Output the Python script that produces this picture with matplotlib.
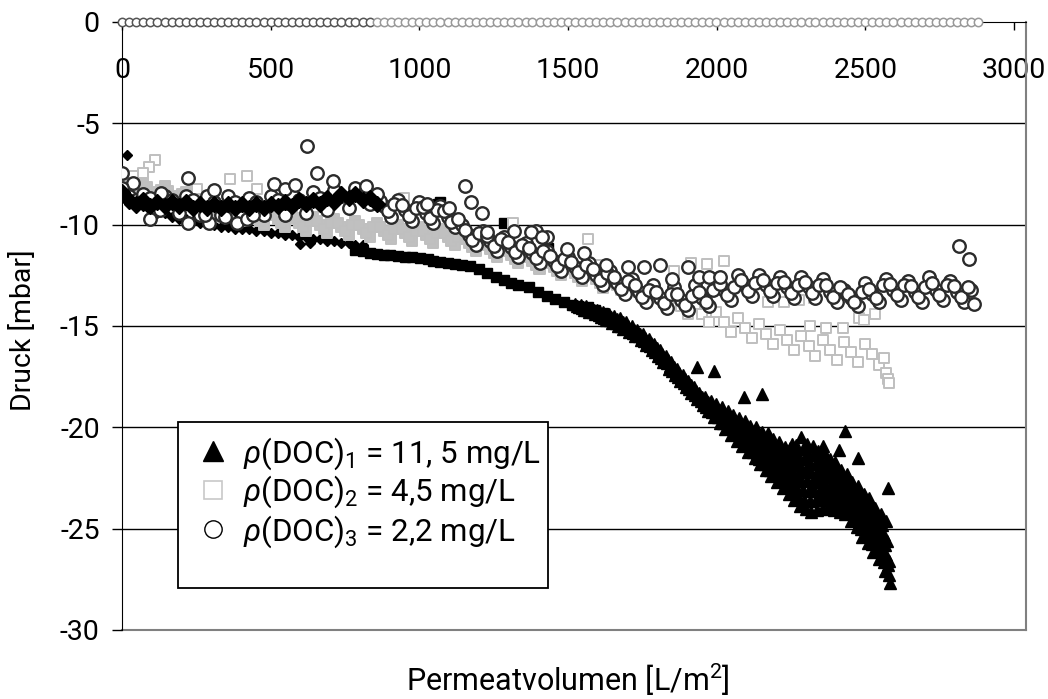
import matplotlib
matplotlib.use("Agg")
import matplotlib.pyplot as plt
from matplotlib.lines import Line2D
from matplotlib.patches import Rectangle
import numpy as np

plt.rcParams["font.family"] = ["Roboto", "DejaVu Sans"]
plt.rcParams["mathtext.fontset"] = "custom"
plt.rcParams["mathtext.rm"] = "Roboto"
plt.rcParams["mathtext.it"] = "Roboto:italic"
plt.rcParams["axes.unicode_minus"] = False

# --- data (Permeatvolumen in L/m2, Druck in mbar) ---
# rho(DOC)1 = 11,5 mg/L : three black runs (diamonds, squares, triangles)
dia_x = [0, 24, 48, 71, 95, 119, 143, 167, 190, 214, 238, 262, 286, 309, 333, 357, 381, 405,
         428, 452, 476, 500, 524, 547, 571, 595, 619, 643, 666, 690, 714, 738, 762, 785, 809,
         17, 600, 633]
dia_y = [-8.7, -9.0, -9.2, -9.1, -9.3, -9.4, -9.4, -9.6, -9.7, -9.7, -9.8, -9.9, -9.9, -10.0,
         -10.1, -10.1, -10.2, -10.2, -10.2, -10.3, -10.3, -10.4, -10.4, -10.5, -10.5, -10.6,
         -10.6, -10.7, -10.7, -10.8, -10.8, -10.9, -10.9, -11.0, -11.0,
         -6.55, -10.95, -10.9]

upper_x = [0, 24, 48, 71, 95, 119, 143, 167, 190, 214, 238, 262, 286, 309, 333, 357, 381, 405,
           428, 452, 476, 500, 524, 547, 571, 595, 619, 643, 666, 690, 714, 738, 762, 785, 809,
           833, 857]
upper_y = [-8.4, -8.8, -9.0, -8.8, -9.1, -8.9, -9.1, -8.9, -9.1, -8.9, -9.2, -9.0, -9.2, -9.0,
           -9.2, -9.0, -9.2, -9.0, -9.2, -9.0, -9.2, -9.0, -9.1, -8.9, -9.1, -8.8, -9.0, -8.8,
           -9.0, -8.7, -8.9, -8.5, -8.7, -8.5, -8.8, -8.7, -9.0]

bsq_x = [784, 809, 835, 857, 881, 902, 928, 952, 976, 1003, 1028, 1047, 1071, 1095, 1119, 1142,
         1171, 1200, 1228, 1257, 1285, 1309, 1330, 1367, 1399, 1428, 1457, 1485, 1514, 1532,
         1566, 1590, 1618, 1064, 1071, 1283, 1431, 1497, 1619]
bsq_y = [-11.25, -11.3, -11.4, -11.45, -11.5, -11.5, -11.55, -11.6, -11.6, -11.65, -11.7, -11.8,
         -11.85, -11.9, -11.95, -12.0, -12.05, -12.2, -12.4, -12.6, -12.75, -12.9, -13.0, -13.1,
         -13.3, -13.5, -13.65, -13.8, -13.95, -14.0, -14.05, -14.2, -14.35,
         -9.0, -8.9, -9.9, -11.15, -11.6, -12.4]

tri_x = [1523, 1531, 1538, 1546, 1553, 1561, 1569, 1576, 1584, 1591,
         1599, 1607, 1614, 1622, 1629, 1637, 1645, 1652, 1660, 1667,
         1676, 1684, 1691, 1699, 1706, 1714, 1722, 1729, 1737, 1744,
         1752, 1760, 1767, 1775, 1782, 1790, 1798, 1805, 1813, 1820,
         1828, 1836, 1843, 1851, 1858, 1866, 1874, 1881, 1889, 1896,
         1904, 1912, 1919, 1927, 1934, 1942, 1950, 1957, 1965, 1972,
         1980, 1988, 1995, 2003, 2010, 2018, 2026, 2033, 2041, 2048,
         2056, 2064, 2071, 2079, 2086,
         2094, 2099, 2104, 2108, 2113, 2118, 2123, 2127,
         2132, 2137, 2142, 2146, 2151, 2156, 2161, 2165,
         2171, 2176, 2181, 2185, 2190, 2195, 2200, 2204,
         2209, 2214, 2219, 2223, 2228, 2233, 2238, 2242,
         2247, 2252, 2257, 2261, 2266, 2271, 2276, 2280,
         2285, 2290, 2295, 2299, 2304, 2309, 2314, 2318,
         2323, 2328, 2333, 2337, 2342, 2347, 2352, 2356,
         2361, 2366, 2371, 2375, 2380, 2385, 2390, 2394,
         2399, 2404, 2409, 2413, 2418, 2423, 2428, 2432,
         2437, 2442, 2447, 2451, 2456, 2461, 2466, 2470,
         2475, 2480, 2485, 2489, 2494, 2499, 2504, 2508,
         2513, 2518, 2523, 2527, 2532, 2537, 2542, 2546,
         2551, 2556, 2561, 2565, 2570, 2575, 2580, 2582,
         1933, 1991, 2092, 2152, 2252, 2357, 2411, 2431, 2475, 2575]
tri_y = [-13.9, -14.0, -14.05, -14.1, -14.2, -14.0, -14.1, -14.2, -14.3, -14.4,
         -14.2, -14.3, -14.45, -14.6, -14.7, -14.4, -14.55, -14.7, -14.85, -15.0,
         -14.6, -14.8, -14.95, -15.1, -15.3, -15.0, -15.2, -15.35, -15.5, -15.7,
         -15.4, -15.6, -15.8, -16.0, -16.2, -15.9, -16.1, -16.35, -16.6, -16.8,
         -16.5, -16.7, -16.95, -17.2, -17.4, -17.1, -17.3, -17.55, -17.8, -18.0,
         -17.7, -17.9, -18.15, -18.4, -18.6, -18.3, -18.5, -18.75, -19.0, -19.2,
         -18.7, -19.0, -19.25, -19.5, -19.8, -19.0, -19.35, -19.7, -20.05, -20.4,
         -19.4, -19.8, -20.15, -20.5, -20.9,
         -19.7, -20.0, -20.2, -20.5, -20.7, -21.0, -21.2, -21.5,
         -20.0, -20.3, -20.6, -20.9, -21.2, -21.5, -21.8, -22.1,
         -20.3, -20.65, -21.0, -21.35, -21.65, -22.0, -22.35, -22.7,
         -20.7, -21.05, -21.45, -21.8, -22.2, -22.55, -22.95, -23.3,
         -21.0, -21.4, -21.85, -22.25, -22.65, -23.05, -23.5, -23.9,
         -20.5, -21.05, -21.55, -22.1, -22.6, -23.15, -23.65, -24.2,
         -20.9, -21.35, -21.8, -22.25, -22.65, -23.1, -23.55, -24.0,
         -21.2, -21.6, -22.05, -22.45, -22.85, -23.25, -23.7, -24.1,
         -21.7, -22.05, -22.45, -22.8, -23.2, -23.55, -23.95, -24.3,
         -22.3, -22.65, -23.05, -23.4, -23.8, -24.15, -24.55, -24.9,
         -22.9, -23.3, -23.7, -24.1, -24.5, -24.9, -25.3, -25.7,
         -23.5, -23.95, -24.35, -24.8, -25.2, -25.65, -26.05, -26.5,
         -24.3, -24.8, -25.3, -25.8, -26.3, -26.8, -27.3, -27.7,
         -17.0, -17.2, -18.5, -18.35, -20.8, -20.9, -21.1, -20.2, -21.5, -23.0]

# second, interleaved filtration cycles of the same run
tri2_x = [1542, 1550, 1557, 1565, 1572, 1580, 1588, 1595, 1603, 1610,
          1618, 1626, 1633, 1641, 1648, 1656, 1664, 1671, 1679, 1686,
          1695, 1703, 1710, 1718, 1725, 1733, 1741, 1748, 1756, 1763,
          1771, 1779, 1786, 1794, 1801, 1809, 1817, 1824, 1832, 1839,
          1847, 1855, 1862, 1870, 1877, 1885, 1893, 1900, 1908, 1915,
          1923, 1931, 1938, 1946, 1953, 1961, 1969, 1976, 1984, 1991,
          1999, 2007, 2014, 2022, 2029, 2037, 2045, 2052, 2060, 2067,
          2075, 2083, 2090, 2098, 2105,
          2113, 2118, 2123, 2127, 2132, 2137, 2142, 2146,
          2151, 2156, 2161, 2165, 2170, 2175, 2180, 2184,
          2190, 2195, 2200, 2204, 2209, 2214, 2219, 2223,
          2228, 2233, 2238, 2242, 2247, 2252, 2257, 2261,
          2266, 2271, 2276, 2280, 2285, 2290, 2295, 2299,
          2304, 2309, 2314, 2318, 2323, 2328, 2333, 2337,
          2342, 2347, 2352, 2356, 2361, 2366, 2371, 2375,
          2380, 2385, 2390, 2394, 2399, 2404, 2409, 2413,
          2418, 2423, 2428, 2432, 2437, 2442, 2447, 2451,
          2456, 2461, 2466, 2470, 2475, 2480, 2485, 2489,
          2494, 2499, 2504, 2508, 2513, 2518, 2523, 2527,
          2532, 2537, 2542, 2546, 2551, 2556, 2561, 2565,
          2570, 2574, 2578]
tri2_y = [-13.95, -14.05, -14.1, -14.2, -14.3, -14.1, -14.2, -14.35, -14.45, -14.55,
          -14.3, -14.45, -14.55, -14.7, -14.85, -14.5, -14.65, -14.85, -15.0, -15.15,
          -14.8, -15.0, -15.15, -15.35, -15.5, -15.2, -15.4, -15.6, -15.75, -15.95,
          -15.65, -15.85, -16.05, -16.3, -16.5, -16.2, -16.4, -16.65, -16.85, -17.1,
          -16.8, -17.0, -17.25, -17.5, -17.7, -17.4, -17.6, -17.85, -18.1, -18.3,
          -18.0, -18.2, -18.45, -18.7, -18.9, -18.5, -18.75, -19.0, -19.25, -19.5,
          -18.85, -19.15, -19.45, -19.8, -20.1, -19.2, -19.55, -19.9, -20.3, -20.65,
          -19.55, -19.95, -20.4, -20.8, -21.2,
          -19.95, -20.2, -20.5, -20.75, -21.0, -21.3, -21.55, -21.8,
          -20.25, -20.55, -20.85, -21.15, -21.45, -21.8, -22.1, -22.4,
          -20.6, -20.95, -21.3, -21.6, -21.95, -22.3, -22.65, -23.0,
          -20.95, -21.3, -21.7, -22.05, -22.45, -22.85, -23.2, -23.6,
          -20.85, -21.3, -21.75, -22.2, -22.65, -23.1, -23.6, -24.05,
          -20.8, -21.3, -21.75, -22.2, -22.7, -23.15, -23.6, -24.1,
          -21.15, -21.55, -21.95, -22.35, -22.8, -23.2, -23.6, -24.05,
          -21.55, -21.95, -22.3, -22.7, -23.1, -23.45, -23.85, -24.2,
          -22.1, -22.45, -22.8, -23.15, -23.5, -23.85, -24.2, -24.6,
          -22.7, -23.05, -23.45, -23.85, -24.25, -24.65, -25.0, -25.4,
          -23.3, -23.7, -24.1, -24.5, -24.95, -25.35, -25.75, -26.15,
          -24.0, -24.4, -24.85, -25.3, -25.75, -26.2, -26.65, -27.1,
          -24.6, -25.6, -26.6]

# rho(DOC)2 = 4,5 mg/L : grey squares
sq_x = [0, 24, 48, 71, 95, 119, 143, 167, 190, 214, 238, 262, 286, 309, 333, 357, 381, 405,
        428, 452, 476, 500, 524, 547, 571, 595, 619, 643, 666, 690, 714, 738, 762, 785, 809,
        833, 857, 881, 904, 928, 952, 976, 1000, 1023, 1047, 1071, 1095, 1119, 1142, 1166,
        1190, 1214, 1238, 1261, 1285, 1309, 1333, 1357, 1380, 1404, 1428, 1452, 1476, 1499,
        1523, 1547, 1571, 1595, 1618, 1642, 1666, 1690, 1714, 1737, 1761, 1785, 1809, 1833,
        1856, 1880, 1904, 1928, 1952, 1975, 1999, 2023, 2047, 2071, 2094, 2118, 2142, 2166,
        2190, 2213, 2237, 2261, 2285, 2309, 2332, 2356, 2380, 2404, 2428, 2451, 2475, 2499,
        2523, 2547, 2561, 2570, 2575, 2580]
sq_y = [-7.7, -8.2, -8.6, -7.9, -8.4, -8.8, -8.1, -8.6, -9.1, -8.4, -8.9, -9.4, -8.7, -9.2,
        -9.6, -8.9, -9.4, -9.8, -9.1, -9.6, -10.0, -9.3, -9.7, -10.1, -9.4, -9.9, -10.3, -9.6,
        -10.0, -10.4, -9.7, -10.1, -10.5, -9.8, -10.2, -10.6, -9.9, -10.3, -10.7, -10.0, -10.4,
        -10.8, -10.1, -10.5, -10.9, -10.2, -10.6, -11.0, -10.5, -10.9, -11.3, -10.8, -11.2,
        -11.6, -11.1, -11.5, -11.9, -11.4, -11.8, -12.2, -11.7, -12.1, -12.5, -12.0, -12.4,
        -12.8, -12.3, -12.7, -13.1, -12.6, -13.0, -13.4, -12.9, -13.3, -13.7, -13.2, -13.6,
        -14.0, -13.6, -14.0, -14.4, -13.9, -14.4, -14.8, -14.3, -14.8, -15.3, -14.6, -15.1,
        -15.6, -14.9, -15.4, -15.9, -15.2, -15.7, -16.2, -15.5, -16.0, -16.5, -15.7, -16.2,
        -16.7, -15.8, -16.3, -16.8, -15.9, -16.4, -16.9, -16.6, -17.3, -17.6, -17.8]
sq2_x = [12, 36, 60, 83, 107, 131, 155, 179, 202, 226, 250, 274, 298, 321, 345, 369, 393, 417,
         440, 464, 488, 512, 536, 559, 583, 607, 631, 655, 678, 702, 726, 750, 774, 797, 821,
         845, 869, 893, 916, 940, 964, 988, 1012, 1035, 1059, 1083, 1107, 1131, 1154, 1178,
         1202, 1226, 1250, 1273, 1297, 1321, 1345, 1369, 1392, 1416, 1440, 1464, 1488, 1511,
         1535, 1559, 1583, 1607, 1630, 1654, 1678, 1702, 1726, 1749, 1773, 1797, 1821, 1845]
sq2_y = [-7.95, -8.4, -8.1, -8.15, -8.6, -8.3, -8.35, -8.85, -8.5, -8.65, -9.15, -8.8,
         -8.95, -9.4, -9.1, -9.15, -9.6, -9.3, -9.35, -9.8, -9.5, -9.5, -9.9, -9.6,
         -9.65, -10.1, -9.8, -9.8, -10.2, -9.9, -9.9, -10.3, -10.0, -10.0, -10.4, -10.1,
         -10.1, -10.5, -10.2, -10.2, -10.6, -10.3, -10.3, -10.7, -10.4, -10.4, -10.8, -10.6,
         -10.7, -11.1, -10.9, -11.0, -11.4, -11.2, -11.3, -11.7, -11.5, -11.6, -12.0, -11.8,
         -11.9, -12.3, -12.1, -12.2, -12.6, -12.4, -12.5, -12.9, -12.7, -12.8, -13.2, -13.0,
         -13.1, -13.5, -13.3, -13.4, -13.8, -13.6]
sq_out_x = [111, 90, 71, 38, 364, 421, 454, 252, 947, 1314, 1566, 1914, 1856, 1604, 2023,
            1966, 2171, 2226, 2277, 2328, 2479, 2494, 2532, 2368, 2424, 2313]
sq_out_y = [-6.8, -7.15, -7.45, -7.6, -7.75, -7.6, -8.25, -8.25, -8.7, -9.9, -10.7, -11.9,
            -12.3, -12.0, -11.8, -11.95, -13.8, -13.8, -13.7, -13.6, -14.6, -14.7, -14.4,
            -15.1, -15.1, -15.0]

# rho(DOC)3 = 2,2 mg/L : open circles
circ_x = [0, 24, 48, 71, 95, 119, 143, 167, 190, 214, 238, 262, 286, 309, 333, 357, 381, 405,
          428, 452, 476, 500, 524, 547, 571, 595, 619, 643, 666, 690, 714, 738, 762, 785, 809,
          833, 857, 881, 904, 928, 952, 976, 1000, 1023, 1047, 1071, 1095, 1119, 1142, 1166,
          1190, 1214, 1238, 1261, 1285, 1309, 1333, 1357, 1380, 1404, 1428, 1452, 1476, 1499,
          1523, 1547, 1571, 1595, 1618, 1642, 1666, 1690, 1714, 1737, 1761, 1785, 1809, 1833,
          1856, 1880, 1904, 1928, 1952, 1975, 1999, 2023, 2047, 2071, 2094, 2118, 2142, 2166,
          2190, 2213, 2237, 2261, 2285, 2309, 2332, 2356, 2380, 2404, 2428, 2451, 2475, 2499,
          2523, 2547, 2570, 2594, 2618, 2642, 2666, 2689, 2713, 2737, 2761, 2785, 2808, 2832,
          2856, 2866]
circ_y = [-8.3, -8.6, -8.8, -8.5, -8.7, -9.3, -8.6, -8.8, -9.4, -8.6, -8.8, -9.5, -8.6, -8.9,
          -9.5, -8.6, -8.9, -9.6, -8.7, -8.9, -9.5, -8.6, -8.8, -9.5, -8.5, -8.8, -9.4, -8.4,
          -8.7, -9.3, -8.3, -8.6, -9.2, -8.2, -8.5, -9.0,
          -8.6, -9.1, -9.6, -8.8, -9.3, -9.8, -8.9, -9.4, -9.9, -9.1, -9.6, -10.1, -10.0,
          -10.5, -11.0, -10.3, -10.8, -11.3, -10.6, -11.1, -11.6, -10.9, -11.4, -11.9, -11.3,
          -11.8, -12.3, -11.6, -12.1, -12.6, -11.9, -12.5, -13.0, -12.3, -12.9, -13.4, -12.7,
          -13.3, -13.8, -13.0, -13.6, -14.1, -13.1, -13.7, -14.2, -13.0, -13.6, -14.0, -12.7,
          -13.2, -13.7, -12.5, -13.0, -13.5, -12.5, -13.0, -13.5, -12.6, -13.1, -13.6, -12.6,
          -13.1, -13.6, -12.7, -13.3, -13.8, -13.2, -13.6, -14.0, -12.9, -13.4, -13.8, -12.7,
          -13.2, -13.7, -12.8, -13.3, -13.8, -12.6, -13.2, -13.7, -12.8, -13.3, -13.8, -13.2,
          -13.9]
circ2_x = [869, 893, 916, 940, 964, 988, 1012, 1035, 1059, 1083, 1107, 1131, 1154, 1178,
           1202, 1226, 1250, 1273, 1297, 1321, 1345, 1369, 1392, 1416, 1440, 1464, 1488, 1511,
           1535, 1559, 1583, 1607, 1630, 1654, 1678, 1702, 1726, 1749, 1773, 1797, 1821, 1845,
           1868, 1892, 1916, 1940, 1964, 1987, 2011, 2035, 2059, 2083, 2106, 2130, 2154, 2178,
           2202, 2225, 2249, 2273, 2297, 2321, 2344, 2368, 2392, 2416, 2440, 2463, 2487, 2511,
           2535, 2559, 2582, 2606, 2630, 2654, 2678, 2701, 2725, 2749, 2773, 2797, 2820, 2844]
circ2_y = [-8.85, -9.35, -9.0, -9.05, -9.55, -9.2, -9.15, -9.65, -9.3, -9.35, -9.85, -9.7,
           -10.25, -10.75, -10.4, -10.55, -11.05, -10.7, -10.85, -11.35, -11.0, -11.15, -11.65,
           -11.3, -11.55, -12.05, -11.7, -11.85, -12.35, -12.0, -12.2, -12.75, -12.4, -12.6,
           -13.15, -12.8, -13.0, -13.55, -13.2, -13.3, -13.85, -13.4, -13.4, -13.95, -13.5,
           -13.3, -13.8, -13.2, -12.95, -13.45, -13.1, -12.75, -13.25, -12.9, -12.75, -13.25,
           -12.9, -12.85, -13.35, -13.0, -12.85, -13.35, -13.0, -13.0, -13.55, -13.1, -13.4,
           -13.8, -13.3, -13.15, -13.6, -13.0, -12.95, -13.45, -13.0, -13.05, -13.55, -13.1,
           -12.9, -13.45, -13.0, -13.05, -13.55, -13.1]
circ_out_x = [0, 36, 0, 94, 223, 223, 293, 387, 421, 512, 549, 583, 623, 657, 711, 822, 858,
              1026, 1101, 1155, 1175, 1212, 1391, 1430, 1497, 1552, 1629, 1700, 1755, 1809,
              1849, 1902, 1939, 1974, 2011, 2815, 2848, 131, 309, 128, 280, 347, 441, 1228,
              1317, 1374, 1414]
circ_out_y = [-7.45, -7.95, -8.2, -9.7, -7.7, -9.9, -9.9, -9.9, -9.7, -8.0, -8.25, -8.05, -6.1,
              -7.45, -7.85, -8.1, -8.5, -9.0, -9.2, -8.1, -8.9, -9.4, -10.3, -10.6, -11.2,
              -11.4, -12.0, -12.1, -12.1, -12.0, -12.7, -12.1, -12.6, -12.6, -12.6, -11.05,
              -11.7, -8.45, -8.3, -9.3, -9.5, -9.6, -9.5, -10.35, -10.3, -10.35, -10.6]

# zero-pressure reference points along the top axis
zero_dark_x = [0, 24, 48, 71, 95, 119, 143, 167, 190, 214, 238, 262, 286, 309, 333, 357, 381,
               405, 428, 452, 476, 500, 524, 547, 571, 595, 619, 643, 666, 690, 714, 738, 762,
               785, 809, 833]
zero_light_x = [857, 881, 904, 928, 952, 976, 1000, 1023, 1047, 1071, 1095, 1119, 1142, 1166,
                1190, 1214, 1238, 1261, 1285, 1309, 1333, 1357, 1380, 1404, 1428, 1452, 1476,
                1499, 1523, 1547, 1571, 1595, 1618, 1642, 1666, 1690, 1714, 1737, 1761, 1785,
                1809, 1833, 1856, 1880, 1904, 1928, 1952, 1975, 1999, 2023, 2047, 2071, 2094,
                2118, 2142, 2166, 2190, 2213, 2237, 2261, 2285, 2309, 2332, 2356, 2380, 2404,
                2428, 2451, 2475, 2499, 2523, 2547, 2570, 2594, 2618, 2642, 2666, 2689, 2713,
                2737, 2761, 2785, 2808, 2832, 2856, 2880]

labels = [r"$\rho$(DOC)$_1$ = 11, 5 mg/L",
          r"$\rho$(DOC)$_2$ = 4,5 mg/L",
          r"$\rho$(DOC)$_3$ = 2,2 mg/L"]

FS = 20.5
fig = plt.figure(figsize=(10.48, 6.99), dpi=100)
ax = fig.add_axes([122 / 1048, 69 / 699, 904 / 1048, 608 / 699])
ax.set_xlim(0, 3040)
ax.set_ylim(-30, 0)

for yv in [-25, -20, -15, -10, -5]:
    ax.axhline(yv, color="black", lw=1, zorder=1)

# series 1 (black)
ax.plot(dia_x, dia_y, ls="none", marker="D", ms=5.5, mfc="black", mec="black", zorder=2)
ax.plot(bsq_x, bsq_y, ls="none", marker="s", ms=6.5, mfc="black", mec="black", zorder=2)
ax.plot(tri_x, tri_y, ls="none", marker="^", ms=9, mfc="black", mec="black", zorder=2)
ax.plot(tri2_x, tri2_y, ls="none", marker="^", ms=9, mfc="black", mec="black", zorder=2)

# series 2 (grey squares), very dense part renders as solid grey
sq_fc = np.where(np.array(sq_x) < 1856, "#c0c0c0", "white")
ax.scatter(sq_x, sq_y, marker="s", s=52, facecolors=sq_fc, edgecolors="#bfbfbf",
           linewidths=1.4, zorder=3)
ax.scatter(sq2_x, sq2_y, marker="s", s=52, facecolors="#c0c0c0", edgecolors="#bfbfbf",
           linewidths=1.4, zorder=3)
ax.scatter(sq_out_x, sq_out_y, marker="s", s=52, facecolors="white", edgecolors="#bfbfbf",
           linewidths=1.4, zorder=3)

# series 3 (circles)
for cx, cy in [(circ_x, circ_y), (circ2_x, circ2_y), (circ_out_x, circ_out_y)]:
    ax.plot(cx, cy, ls="none", marker="o", ms=9, mfc="white", mec="#2b2b2b",
            mew=1.7, zorder=4)

ax.plot(upper_x, upper_y, ls="none", marker="D", ms=8, mfc="black", mec="black", zorder=4.5)

# zero line points
ax.plot(zero_dark_x, [0] * len(zero_dark_x), ls="none", marker="o", ms=6, mfc="white",
        mec="#555555", mew=1.1, zorder=6, clip_on=False)
ax.plot(zero_light_x, [0] * len(zero_light_x), ls="none", marker="o", ms=6, mfc="white",
        mec="#999999", mew=1.1, zorder=6, clip_on=False)

# axes styling (Excel like: x axis crossing at 0, grey plot-area border)
ax.spines["top"].set_visible(False)
ax.spines["bottom"].set_position(("data", 0))
ax.spines["bottom"].set_color("black")
ax.spines["left"].set_color("black")
ax.spines["right"].set_color("#808080")
ax.spines["right"].set_linewidth(1.5)
ax.axhline(-30, color="#808080", lw=1.5, zorder=1, clip_on=False)

ax.set_xticks([0, 500, 1000, 1500, 2000, 2500, 3000])
ax.set_yticks([-30, -25, -20, -15, -10, -5, 0])
ax.tick_params(axis="x", direction="out", length=6, width=1, pad=19, labelsize=FS)
ax.tick_params(axis="y", direction="out", length=7, width=1, pad=9, labelsize=FS)

fig.text(24 / 1048, 1 - 330 / 699, "Druck [mbar]", rotation=90, ha="center", va="center",
         fontsize=20.5)
fig.text(568 / 1048, 1 - 680 / 699, r"Permeatvolumen [L/m$^2$]", ha="center", va="center",
         fontsize=22)

# legend box
box = Rectangle((178 / 1048, 1 - 588 / 699), 370 / 1048, 166 / 699, transform=fig.transFigure,
                facecolor="white", edgecolor="black", lw=1.3, zorder=7)
ax.add_patch(box)
box.set_clip_on(False)

handles = [
    Line2D([], [], ls="none", marker="^", ms=15, mfc="black", mec="black"),
    Line2D([], [], ls="none", marker="s", ms=12.5, mfc="white", mec="#c8c8c8", mew=1.2),
    Line2D([], [], ls="none", marker="o", ms=12.5, mfc="white", mec="black", mew=1.0),
]
leg = ax.legend(handles, labels, loc="upper left", bbox_to_anchor=(194 / 1048, 1 - 435 / 699),
                bbox_transform=fig.transFigure, frameon=False, fontsize=22.5,
                handlelength=1.2, handletextpad=0.37, labelspacing=0.08, borderpad=0,
                borderaxespad=0)
leg.set_zorder(8)

fig.savefig("out.png", dpi=100)
